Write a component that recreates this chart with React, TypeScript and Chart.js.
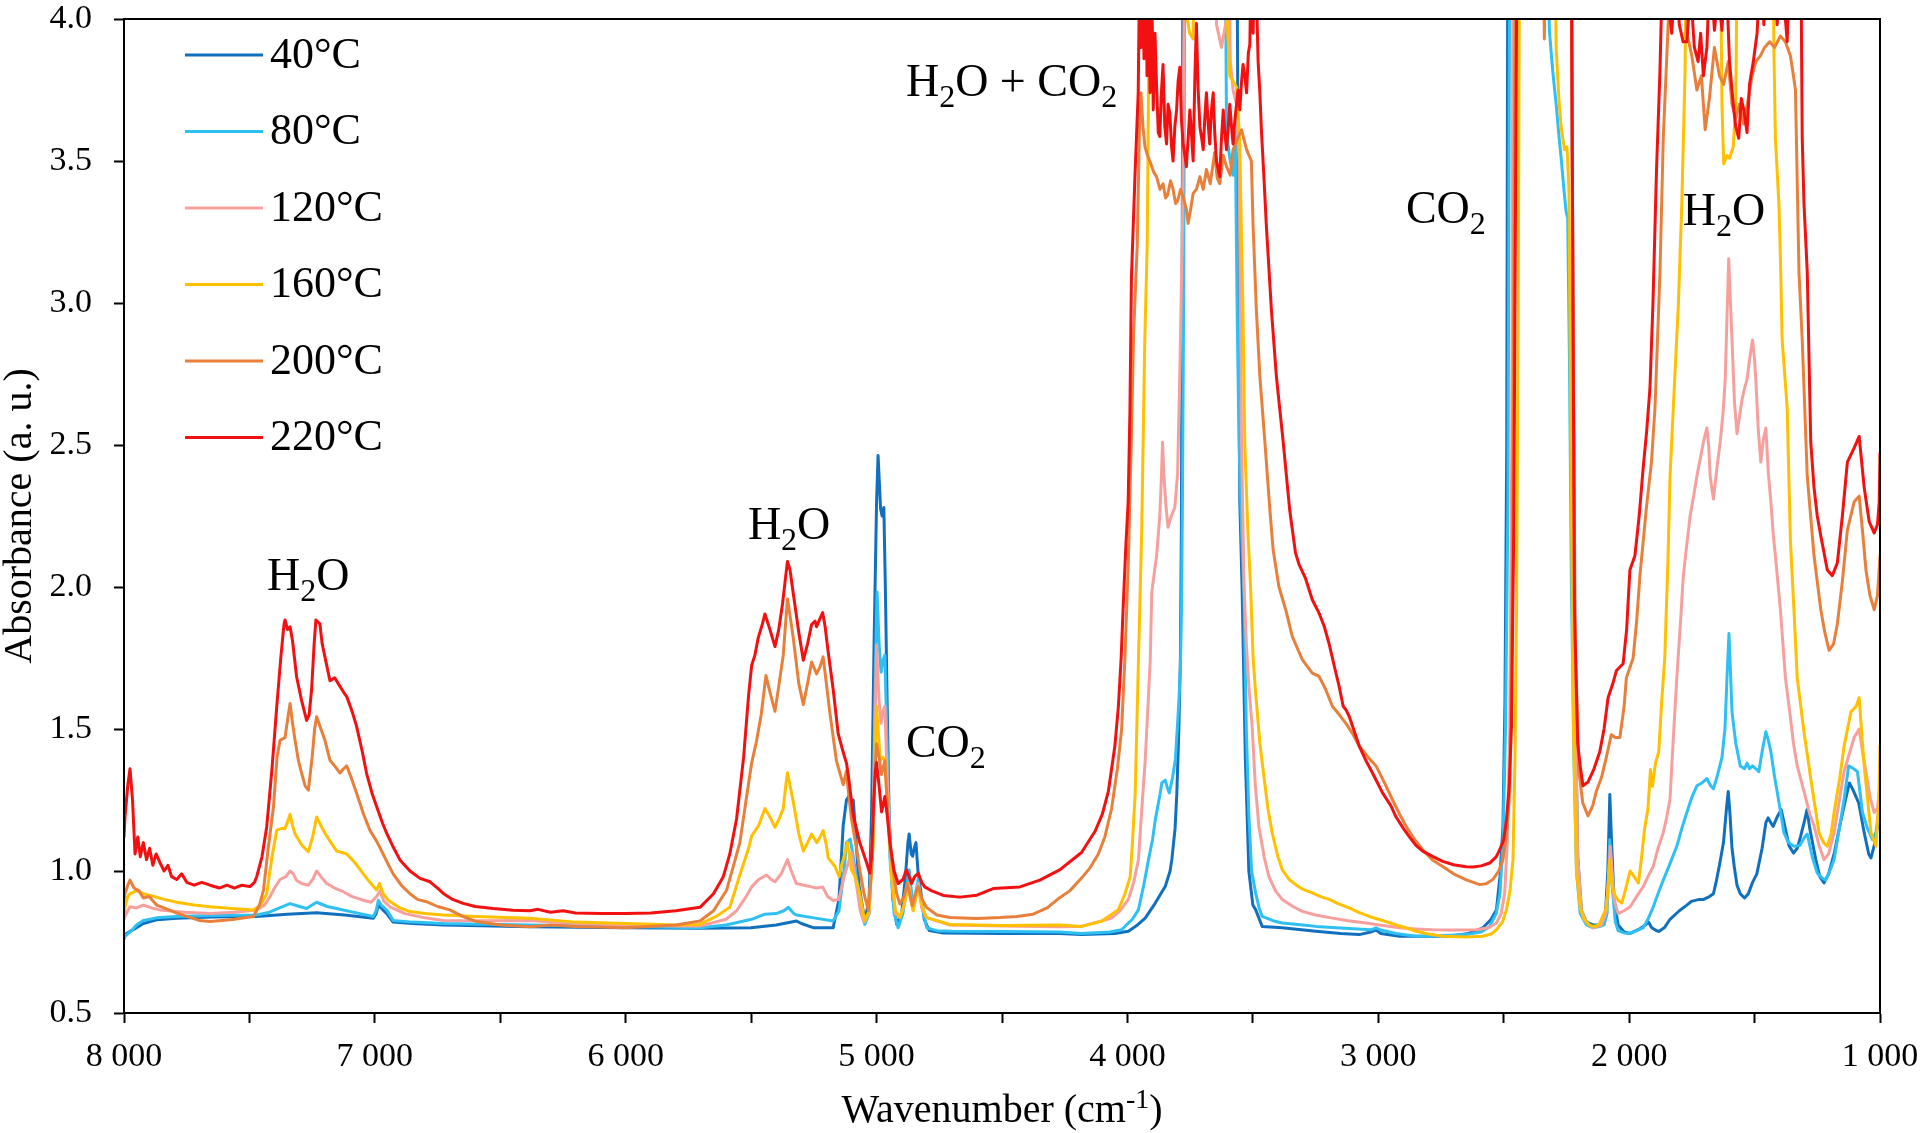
import React, { useEffect, useRef } from "react";
import { Chart, registerables } from "chart.js";

Chart.register(...registerables);

const FONT = "'Liberation Serif', 'Times New Roman', serif";

const SERIES_NAMES = ["40°C", "80°C", "120°C", "160°C", "200°C", "220°C"];
const SERIES_COLORS = ["#1170BE", "#2EC0F2", "#F6A09E", "#FFC000", "#E8803C", "#F21010"];

// [wavenumber (cm-1), absorbance (a. u.)]
const T40: [number, number][] = [
  [8000,0.77],[7996,0.776],[7970,0.79],[7950,0.80],[7923,0.815],[7870,0.828],[7790,0.834],[7650,0.838],[7471,0.84],[7350,0.848],[7232,0.853],[7120,0.845],[7006,0.834],[6995,0.85],[6986,0.88],[6970,0.865],[6953,0.85],[6927,0.82],[6850,0.815],[6727,0.81],[6382,0.804],[6000,0.80],[5704,0.798],[5500,0.80],[5400,0.81],[5319,0.824],[5300,0.815],[5250,0.80],[5173,0.80],[5150,0.90],[5133,1.16],[5120,1.25],[5107,1.268],[5100,1.22],[5093,1.25],[5085,1.15],[5070,0.95],[5047,0.824],[5030,0.90],[5020,1.2],[5010,1.8],[5000,2.3],[4994,2.463],[4988,2.35],[4984,2.276],[4978,2.25],[4971,2.28],[4965,2.0],[4958,1.6],[4950,1.2],[4935,0.9],[4920,0.812],[4900,0.85],[4885,0.98],[4875,1.10],[4870,1.13],[4862,1.06],[4856,1.052],[4850,1.08],[4843,1.10],[4835,1.0],[4826,0.944],[4810,0.83],[4790,0.79],[4734,0.782],[4500,0.78],[4270,0.78],[4183,0.776],[4050,0.78],[3996,0.788],[3960,0.81],[3929,0.834],[3889,0.887],[3849,0.946],[3830,1.0],[3823,1.04],[3810,1.15],[3803,1.275],[3795,1.5],[3789,1.744],[3785,2.2],[3782,3.0],[3778,4.6],[3565,4.6],[3559,3.5],[3552,2.3],[3543,2.0],[3530,1.4],[3516,1.0],[3500,0.88],[3489,0.864],[3463,0.805],[3383,0.80],[3249,0.788],[3150,0.78],[3076,0.776],[3030,0.785],[3009,0.793],[2990,0.78],[2916,0.77],[2800,0.77],[2716,0.77],[2640,0.78],[2583,0.80],[2550,0.83],[2529,0.864],[2515,0.98],[2503,1.157],[2495,1.6],[2488,2.5],[2483,4.6],[2232,4.6],[2224,3.0],[2215,1.6],[2205,1.05],[2190,0.86],[2170,0.82],[2144,0.81],[2115,0.81],[2095,0.84],[2085,1.0],[2077,1.269],[2070,1.1],[2060,0.90],[2044,0.81],[2020,0.785],[1996,0.78],[1960,0.795],[1935,0.81],[1923,0.82],[1910,0.80],[1891,0.79],[1882,0.787],[1860,0.80],[1837,0.83],[1800,0.86],[1770,0.88],[1752,0.893],[1720,0.90],[1703,0.90],[1680,0.91],[1664,0.92],[1654,0.958],[1640,1.02],[1624,1.10],[1612,1.22],[1605,1.28],[1598,1.20],[1590,1.08],[1581,1.016],[1570,0.95],[1557,0.92],[1540,0.905],[1525,0.92],[1508,0.96],[1491,0.99],[1470,1.08],[1455,1.17],[1446,1.187],[1435,1.17],[1426,1.157],[1410,1.19],[1394,1.216],[1380,1.16],[1363,1.09],[1345,1.063],[1330,1.08],[1317,1.12],[1300,1.18],[1291,1.216],[1280,1.15],[1256,1.04],[1240,0.98],[1223,0.958],[1205,0.99],[1183,1.06],[1160,1.16],[1143,1.23],[1122,1.31],[1110,1.29],[1095,1.26],[1085,1.24],[1063,1.135],[1045,1.06],[1036,1.046],[1020,1.10],[1010,1.16],[1000,1.24],
];

const T80: [number, number][] = [
  [8000,0.76],[7996,0.77],[7970,0.79],[7950,0.81],[7923,0.826],[7870,0.835],[7790,0.84],[7650,0.843],[7471,0.845],[7420,0.855],[7380,0.87],[7338,0.885],[7300,0.875],[7272,0.868],[7250,0.88],[7232,0.89],[7190,0.875],[7126,0.863],[7060,0.85],[7006,0.84],[6995,0.86],[6986,0.897],[6975,0.88],[6953,0.863],[6927,0.826],[6850,0.82],[6727,0.815],[6382,0.81],[6000,0.805],[5704,0.80],[5600,0.81],[5498,0.83],[5445,0.848],[5400,0.85],[5370,0.86],[5352,0.872],[5330,0.85],[5319,0.845],[5250,0.835],[5173,0.824],[5150,0.86],[5130,1.0],[5120,1.10],[5105,1.112],[5093,1.05],[5075,0.95],[5060,0.85],[5047,0.812],[5030,0.85],[5013,1.2],[5005,1.7],[4998,1.982],[4990,1.80],[4982,1.70],[4975,1.74],[4967,1.76],[4958,1.45],[4947,1.05],[4930,0.85],[4914,0.80],[4895,0.85],[4880,0.95],[4870,1.004],[4860,0.92],[4854,0.87],[4845,0.92],[4834,0.97],[4820,0.88],[4800,0.80],[4760,0.79],[4700,0.788],[4500,0.787],[4270,0.785],[4183,0.78],[4070,0.785],[4023,0.793],[4004,0.81],[3980,0.83],[3956,0.864],[3935,0.95],[3916,1.04],[3900,1.11],[3889,1.18],[3870,1.27],[3863,1.31],[3849,1.32],[3840,1.29],[3833,1.275],[3820,1.33],[3809,1.392],[3798,1.55],[3789,1.7],[3784,1.95],[3780,2.4],[3776,3.0],[3770,4.6],[3612,4.6],[3605,3.62],[3598,3.55],[3590,3.50],[3578,3.45],[3570,3.6],[3563,3.0],[3555,2.5],[3545,2.2],[3536,2.0],[3526,1.5],[3516,1.2],[3505,1.0],[3489,0.923],[3475,0.87],[3463,0.84],[3420,0.825],[3383,0.817],[3300,0.81],[3249,0.805],[3100,0.797],[3030,0.793],[3009,0.80],[2990,0.792],[2930,0.78],[2849,0.77],[2750,0.772],[2649,0.776],[2590,0.785],[2556,0.805],[2530,0.85],[2515,0.92],[2503,1.1],[2493,1.5],[2483,2.3],[2475,4.6],[2330,4.6],[2318,3.96],[2305,3.82],[2291,3.70],[2281,3.60],[2271,3.51],[2260,3.40],[2251,3.32],[2245,3.30],[2238,2.8],[2230,2.0],[2220,1.4],[2210,1.0],[2195,0.85],[2170,0.81],[2144,0.80],[2115,0.805],[2100,0.81],[2088,0.85],[2077,1.11],[2068,0.95],[2055,0.82],[2044,0.79],[2020,0.782],[1997,0.78],[1970,0.79],[1944,0.80],[1925,0.83],[1904,0.873],[1885,0.92],[1864,0.968],[1840,1.02],[1810,1.087],[1790,1.15],[1770,1.206],[1750,1.26],[1730,1.30],[1710,1.31],[1690,1.325],[1675,1.30],[1664,1.29],[1650,1.33],[1630,1.40],[1618,1.50],[1610,1.68],[1602,1.836],[1596,1.70],[1590,1.56],[1575,1.45],[1557,1.37],[1540,1.36],[1530,1.38],[1520,1.36],[1508,1.37],[1495,1.36],[1483,1.35],[1470,1.42],[1455,1.49],[1445,1.46],[1435,1.42],[1420,1.33],[1410,1.28],[1395,1.20],[1383,1.135],[1365,1.10],[1343,1.087],[1320,1.09],[1300,1.12],[1290,1.13],[1270,1.05],[1250,0.992],[1230,0.975],[1216,0.968],[1200,1.0],[1183,1.04],[1160,1.16],[1143,1.254],[1125,1.37],[1105,1.36],[1090,1.35],[1080,1.28],[1070,1.206],[1050,1.15],[1030,1.11],[1015,1.14],[1000,1.254],
];

const T120: [number, number][] = [
  [8000,0.83],[7996,0.84],[7985,0.86],[7976,0.874],[7950,0.87],[7923,0.88],[7890,0.87],[7857,0.863],[7760,0.855],[7657,0.85],[7560,0.855],[7471,0.863],[7440,0.88],[7418,0.91],[7400,0.94],[7378,0.97],[7355,0.98],[7338,1.00],[7325,0.99],[7312,0.967],[7290,0.955],[7265,0.95],[7248,0.97],[7232,1.00],[7215,0.98],[7192,0.956],[7160,0.94],[7126,0.927],[7090,0.91],[7046,0.897],[7015,0.89],[6993,0.91],[6980,0.93],[6965,0.895],[6940,0.874],[6880,0.85],[6800,0.835],[6727,0.826],[6550,0.825],[6382,0.826],[6200,0.815],[6000,0.81],[5800,0.806],[5704,0.806],[5600,0.83],[5558,0.86],[5520,0.91],[5498,0.944],[5470,0.97],[5439,0.986],[5420,0.97],[5405,0.962],[5380,0.99],[5365,1.02],[5355,1.04],[5340,1.0],[5320,0.956],[5290,0.95],[5259,0.944],[5240,0.94],[5215,0.944],[5195,0.91],[5173,0.896],[5150,0.90],[5130,0.98],[5113,1.028],[5100,1.064],[5085,0.98],[5065,0.86],[5050,0.82],[5030,0.85],[5013,1.2],[5005,1.6],[5000,1.796],[4990,1.6],[4982,1.52],[4975,1.56],[4967,1.58],[4955,1.25],[4940,0.98],[4925,0.85],[4907,0.836],[4890,0.88],[4872,0.956],[4862,0.90],[4854,0.86],[4845,0.90],[4834,0.956],[4820,0.87],[4801,0.836],[4708,0.81],[4500,0.806],[4270,0.804],[4183,0.805],[4063,0.834],[4030,0.86],[3996,0.90],[3975,0.96],[3956,1.04],[3944,1.2],[3929,1.392],[3917,1.6],[3909,1.744],[3903,1.98],[3890,2.07],[3884,2.107],[3871,2.25],[3864,2.40],[3860,2.51],[3855,2.4],[3846,2.28],[3838,2.21],[3825,2.25],[3811,2.28],[3800,2.4],[3790,2.8],[3780,3.3],[3770,4.6],[3650,4.6],[3645,3.98],[3625,3.9],[3605,4.0],[3598,4.6],[3590,3.85],[3579,3.75],[3565,3.70],[3555,3.5],[3545,2.5],[3535,2.0],[3526,1.8],[3516,1.65],[3503,1.51],[3490,1.3],[3476,1.157],[3455,1.05],[3436,0.98],[3410,0.93],[3383,0.90],[3340,0.875],[3303,0.858],[3250,0.845],[3183,0.834],[3120,0.825],[3049,0.817],[2980,0.808],[2916,0.80],[2850,0.796],[2783,0.793],[2700,0.792],[2609,0.793],[2560,0.80],[2529,0.817],[2510,0.85],[2496,0.923],[2486,1.1],[2476,1.5],[2468,2.5],[2462,4.6],[2232,4.6],[2224,2.8],[2215,1.6],[2205,1.05],[2190,0.86],[2170,0.82],[2144,0.80],[2110,0.81],[2090,0.86],[2075,1.087],[2060,0.90],[2044,0.85],[2020,0.86],[1997,0.873],[1970,0.91],[1944,0.945],[1925,0.98],[1904,1.016],[1885,1.08],[1864,1.135],[1850,1.19],[1837,1.254],[1825,1.45],[1810,1.68],[1795,1.88],[1784,2.04],[1770,2.15],[1757,2.25],[1743,2.32],[1730,2.39],[1717,2.45],[1704,2.51],[1690,2.56],[1683,2.50],[1677,2.39],[1664,2.31],[1650,2.42],[1637,2.51],[1625,2.62],[1617,2.73],[1610,2.95],[1603,3.156],[1596,3.0],[1590,2.87],[1580,2.65],[1570,2.54],[1560,2.60],[1550,2.66],[1540,2.70],[1530,2.73],[1520,2.80],[1508,2.87],[1500,2.80],[1495,2.73],[1485,2.55],[1475,2.44],[1465,2.52],[1455,2.56],[1445,2.40],[1435,2.30],[1425,2.18],[1417,2.11],[1397,1.92],[1377,1.68],[1357,1.54],[1345,1.45],[1330,1.37],[1303,1.28],[1280,1.20],[1263,1.16],[1243,1.09],[1223,1.04],[1205,1.06],[1183,1.135],[1160,1.26],[1143,1.35],[1120,1.42],[1103,1.47],[1083,1.50],[1070,1.42],[1056,1.35],[1040,1.26],[1023,1.206],[1010,1.22],[1000,1.30],
];

const T160: [number, number][] = [
  [8000,0.84],[7996,0.874],[7985,0.91],[7976,0.92],[7950,0.93],[7923,0.92],[7880,0.91],[7840,0.90],[7790,0.89],[7720,0.88],[7657,0.874],[7570,0.868],[7484,0.863],[7455,0.88],[7431,0.92],[7410,1.05],[7391,1.144],[7370,1.15],[7358,1.15],[7345,1.18],[7338,1.20],[7328,1.16],[7318,1.13],[7290,1.09],[7265,1.068],[7248,1.12],[7232,1.19],[7215,1.16],[7199,1.133],[7175,1.10],[7152,1.07],[7130,1.065],[7112,1.06],[7080,1.03],[7046,0.99],[7020,0.96],[6993,0.933],[6982,0.956],[6967,0.92],[6947,0.897],[6900,0.87],[6860,0.857],[6800,0.85],[6727,0.845],[6600,0.84],[6382,0.834],[6200,0.82],[6000,0.815],[5800,0.81],[5704,0.812],[5640,0.84],[5585,0.872],[5540,1.00],[5510,1.08],[5498,1.124],[5470,1.16],[5445,1.22],[5425,1.19],[5405,1.154],[5390,1.18],[5372,1.22],[5362,1.30],[5355,1.346],[5345,1.30],[5332,1.244],[5310,1.13],[5292,1.07],[5275,1.10],[5259,1.13],[5239,1.10],[5225,1.12],[5213,1.142],[5200,1.09],[5193,1.046],[5166,1.016],[5149,0.98],[5140,1.02],[5133,1.04],[5116,1.10],[5100,1.004],[5085,0.98],[5067,0.92],[5047,0.824],[5030,0.86],[5013,1.10],[5005,1.45],[5000,1.58],[4990,1.45],[4985,1.388],[4975,1.40],[4967,1.394],[4955,1.20],[4940,0.98],[4925,0.86],[4907,0.836],[4890,0.88],[4874,0.956],[4865,0.90],[4854,0.86],[4845,0.90],[4834,0.944],[4820,0.88],[4801,0.836],[4708,0.812],[4500,0.808],[4270,0.81],[4183,0.805],[4103,0.823],[4036,0.864],[4010,0.92],[3989,0.98],[3980,1.10],[3969,1.275],[3956,1.744],[3943,2.2],[3931,2.86],[3921,3.21],[3916,3.74],[3910,4.6],[3775,4.6],[3765,4.02],[3752,3.95],[3738,3.93],[3730,4.6],[3612,4.6],[3600,3.95],[3592,3.80],[3578,3.78],[3565,3.76],[3552,3.56],[3545,3.21],[3540,3.0],[3532,2.5],[3520,2.2],[3509,2.0],[3499,1.75],[3489,1.627],[3472,1.45],[3456,1.333],[3440,1.22],[3423,1.134],[3400,1.05],[3383,1.005],[3355,0.97],[3329,0.952],[3300,0.935],[3263,0.923],[3230,0.91],[3196,0.90],[3160,0.885],[3116,0.87],[3080,0.855],[3036,0.84],[2980,0.825],[2929,0.81],[2890,0.80],[2849,0.788],[2800,0.778],[2743,0.77],[2650,0.768],[2583,0.77],[2550,0.778],[2529,0.793],[2505,0.82],[2489,0.864],[2475,0.93],[2463,1.04],[2455,1.4],[2449,1.9],[2442,3.0],[2436,4.6],[2300,4.6],[2291,3.90],[2280,3.72],[2271,3.62],[2258,3.54],[2248,3.55],[2240,3.4],[2232,2.5],[2222,1.5],[2210,1.0],[2195,0.87],[2180,0.83],[2160,0.81],[2142,0.805],[2120,0.81],[2094,0.864],[2085,0.93],[2077,1.04],[2070,0.96],[2060,0.92],[2044,0.897],[2029,0.887],[2010,0.95],[1996,1.0],[1980,0.98],[1963,0.958],[1950,1.05],[1939,1.145],[1925,1.22],[1915,1.357],[1907,1.298],[1895,1.38],[1882,1.42],[1870,1.6],[1858,1.75],[1845,2.1],[1837,2.39],[1824,2.63],[1804,2.99],[1790,3.35],[1777,3.82],[1770,4.6],[1640,4.6],[1630,3.7],[1623,3.49],[1610,3.52],[1600,3.51],[1585,3.55],[1575,3.7],[1565,4.6],[1430,4.6],[1423,3.9],[1417,3.58],[1403,3.35],[1397,3.16],[1390,2.87],[1370,2.63],[1357,2.16],[1343,1.92],[1330,1.68],[1303,1.49],[1276,1.325],[1243,1.135],[1225,1.10],[1210,1.087],[1195,1.13],[1183,1.206],[1160,1.33],[1143,1.44],[1116,1.56],[1095,1.58],[1083,1.61],[1070,1.45],[1063,1.37],[1036,1.135],[1016,1.087],[1005,1.25],[1000,1.44],
];

const T200: [number, number][] = [
  [8000,0.90],[7996,0.92],[7985,0.95],[7976,0.968],[7960,0.94],[7940,0.93],[7923,0.905],[7900,0.91],[7870,0.88],[7840,0.87],[7790,0.852],[7750,0.84],[7700,0.826],[7657,0.822],[7610,0.826],[7560,0.83],[7520,0.835],[7484,0.84],[7460,0.88],[7444,0.933],[7425,1.08],[7404,1.227],[7390,1.40],[7378,1.46],[7358,1.47],[7345,1.55],[7338,1.59],[7328,1.52],[7318,1.46],[7305,1.39],[7292,1.345],[7278,1.30],[7265,1.285],[7250,1.40],[7240,1.50],[7232,1.543],[7215,1.50],[7199,1.46],[7179,1.39],[7160,1.37],[7139,1.345],[7125,1.36],[7112,1.37],[7095,1.33],[7073,1.275],[7045,1.20],[7020,1.144],[6990,1.10],[6967,1.06],[6945,1.02],[6927,0.99],[6895,0.95],[6860,0.92],[6830,0.90],[6794,0.892],[6750,0.875],[6701,0.863],[6650,0.84],[6594,0.822],[6500,0.81],[6382,0.804],[6300,0.81],[6200,0.805],[6000,0.80],[5800,0.81],[5704,0.824],[5650,0.86],[5598,0.932],[5570,1.02],[5545,1.10],[5520,1.25],[5498,1.38],[5478,1.46],[5460,1.55],[5441,1.688],[5425,1.63],[5405,1.562],[5390,1.65],[5372,1.76],[5362,1.88],[5355,1.958],[5345,1.90],[5332,1.82],[5310,1.66],[5292,1.586],[5275,1.66],[5259,1.736],[5239,1.694],[5225,1.72],[5213,1.754],[5200,1.66],[5186,1.556],[5160,1.388],[5133,1.304],[5120,1.352],[5110,1.26],[5100,1.184],[5080,1.08],[5067,1.004],[5050,0.92],[5033,0.86],[5020,1.0],[5013,1.16],[5005,1.38],[5000,1.448],[4990,1.40],[4980,1.34],[4967,1.388],[4955,1.20],[4940,1.04],[4920,0.92],[4907,0.884],[4890,0.91],[4878,0.956],[4865,0.91],[4857,0.878],[4845,0.92],[4834,0.944],[4818,0.90],[4801,0.872],[4760,0.845],[4708,0.836],[4600,0.833],[4509,0.836],[4440,0.84],[4376,0.848],[4320,0.87],[4270,0.906],[4230,0.93],[4183,0.975],[4150,1.01],[4116,1.06],[4090,1.12],[4063,1.22],[4040,1.36],[4023,1.5],[4010,1.75],[3996,2.1],[3985,2.5],[3975,2.9],[3961,3.2],[3952,3.62],[3946,3.74],[3938,3.62],[3930,3.55],[3920,3.52],[3911,3.50],[3895,3.46],[3884,3.445],[3870,3.40],[3858,3.42],[3848,3.37],[3840,3.38],[3828,3.43],[3818,3.40],[3808,3.35],[3800,3.36],[3788,3.40],[3778,3.374],[3765,3.33],[3758,3.28],[3748,3.33],[3738,3.386],[3725,3.40],[3711,3.445],[3698,3.40],[3685,3.47],[3670,3.42],[3652,3.53],[3642,3.44],[3632,3.42],[3618,3.52],[3605,3.48],[3590,3.45],[3579,3.54],[3560,3.58],[3545,3.61],[3525,3.54],[3506,3.50],[3499,3.27],[3486,2.975],[3472,2.74],[3452,2.51],[3432,2.27],[3419,2.13],[3396,2.0],[3369,1.92],[3343,1.826],[3303,1.744],[3263,1.697],[3236,1.685],[3210,1.64],[3183,1.58],[3155,1.55],[3129,1.52],[3100,1.48],[3076,1.44],[3040,1.40],[3009,1.37],[2975,1.31],[2943,1.25],[2915,1.20],[2889,1.157],[2855,1.11],[2823,1.075],[2785,1.04],[2743,1.016],[2700,0.99],[2649,0.969],[2596,0.952],[2570,0.955],[2543,0.97],[2520,1.0],[2503,1.04],[2490,1.12],[2476,1.275],[2466,2.0],[2458,3.5],[2450,4.6],[2345,4.6],[2338,3.93],[2328,4.6],[2232,4.6],[2224,3.0],[2215,1.8],[2200,1.35],[2185,1.24],[2164,1.194],[2145,1.23],[2131,1.28],[2110,1.33],[2091,1.40],[2071,1.48],[2055,1.47],[2037,1.47],[2020,1.58],[2011,1.68],[1984,1.75],[1970,1.88],[1957,2.04],[1931,2.28],[1911,2.44],[1897,2.63],[1877,3.11],[1864,3.58],[1844,3.99],[1830,4.6],[1790,4.6],[1770,3.95],[1750,3.87],[1730,3.75],[1712,3.80],[1697,3.61],[1680,3.72],[1660,3.90],[1640,3.80],[1623,3.77],[1605,3.85],[1590,3.70],[1575,3.65],[1560,3.70],[1543,3.63],[1525,3.72],[1510,3.80],[1495,3.85],[1477,3.87],[1460,3.90],[1440,3.92],[1420,3.90],[1397,3.94],[1377,3.92],[1357,3.87],[1345,3.80],[1337,3.75],[1323,3.11],[1310,2.87],[1290,2.39],[1263,2.11],[1236,1.92],[1220,1.84],[1203,1.777],[1185,1.80],[1170,1.87],[1150,2.02],[1130,2.20],[1103,2.30],[1083,2.32],[1070,2.20],[1056,2.06],[1040,1.97],[1023,1.92],[1010,1.97],[1000,2.11],
];

const T220: [number, number][] = [
  [8000,1.12],[7996,1.19],[7985,1.30],[7976,1.36],[7966,1.25],[7956,1.06],[7945,1.12],[7935,1.05],[7923,1.10],[7910,1.04],[7898,1.08],[7885,1.02],[7872,1.06],[7857,1.03],[7840,1.00],[7825,1.02],[7810,0.98],[7790,0.97],[7770,0.99],[7750,0.96],[7720,0.95],[7690,0.96],[7657,0.95],[7620,0.94],[7590,0.95],[7560,0.94],[7530,0.95],[7498,0.945],[7480,0.96],[7471,0.98],[7450,1.05],[7431,1.156],[7410,1.36],[7391,1.58],[7375,1.75],[7362,1.87],[7358,1.884],[7348,1.85],[7338,1.86],[7328,1.81],[7312,1.684],[7292,1.60],[7272,1.53],[7262,1.55],[7252,1.64],[7242,1.80],[7235,1.884],[7219,1.87],[7210,1.80],[7199,1.754],[7179,1.67],[7160,1.68],[7139,1.65],[7125,1.63],[7112,1.614],[7090,1.56],[7073,1.51],[7050,1.42],[7033,1.344],[7010,1.27],[6993,1.227],[6970,1.17],[6953,1.133],[6930,1.09],[6900,1.039],[6860,1.0],[6820,0.974],[6780,0.962],[6750,0.94],[6727,0.921],[6690,0.90],[6648,0.886],[6600,0.875],[6528,0.868],[6450,0.862],[6382,0.86],[6350,0.865],[6300,0.855],[6250,0.86],[6200,0.852],[6100,0.85],[6000,0.85],[5900,0.852],[5800,0.86],[5704,0.872],[5650,0.92],[5611,0.98],[5585,1.06],[5558,1.184],[5530,1.40],[5510,1.62],[5498,1.724],[5485,1.76],[5472,1.82],[5455,1.87],[5445,1.905],[5425,1.85],[5405,1.79],[5390,1.85],[5375,1.94],[5362,2.04],[5355,2.09],[5345,2.06],[5332,1.977],[5310,1.84],[5292,1.742],[5275,1.80],[5259,1.868],[5245,1.88],[5239,1.86],[5225,1.89],[5215,1.91],[5205,1.86],[5193,1.772],[5173,1.64],[5153,1.484],[5133,1.418],[5120,1.38],[5113,1.34],[5093,1.196],[5067,1.10],[5040,1.03],[5027,0.992],[5020,1.05],[5013,1.22],[5005,1.35],[5000,1.382],[4990,1.30],[4980,1.208],[4972,1.24],[4967,1.262],[4958,1.20],[4947,1.10],[4930,1.00],[4914,0.956],[4895,0.97],[4881,1.004],[4870,0.98],[4861,0.956],[4848,0.98],[4834,0.992],[4820,0.96],[4808,0.944],[4780,0.93],[4734,0.914],[4668,0.908],[4600,0.915],[4535,0.938],[4429,0.944],[4349,0.968],[4270,1.004],[4183,1.065],[4129,1.14],[4100,1.2],[4076,1.28],[4050,1.44],[4036,1.58],[4025,1.75],[4016,1.95],[4006,2.15],[3997,2.3],[3990,2.62],[3984,3.09],[3970,3.445],[3957,3.74],[3950,4.3],[3945,3.9],[3940,4.3],[3934,3.86],[3928,4.4],[3922,3.80],[3917,4.3],[3910,3.74],[3904,4.2],[3897,3.68],[3890,3.95],[3884,3.77],[3877,3.60],[3871,3.586],[3864,3.75],[3858,3.84],[3851,3.62],[3844,3.56],[3838,3.70],[3831,3.668],[3824,3.55],[3818,3.50],[3811,3.62],[3804,3.68],[3798,3.78],[3791,3.83],[3785,3.65],[3778,3.56],[3771,3.52],[3765,3.48],[3758,3.58],[3751,3.68],[3745,3.60],[3738,3.50],[3731,3.80],[3725,3.985],[3718,3.75],[3711,3.62],[3704,3.58],[3698,3.54],[3691,3.66],[3685,3.74],[3678,3.63],[3672,3.56],[3665,3.68],[3658,3.74],[3652,3.60],[3645,3.50],[3638,3.47],[3632,3.445],[3625,3.58],[3618,3.68],[3612,3.60],[3605,3.54],[3598,3.62],[3592,3.70],[3585,3.62],[3579,3.56],[3572,3.64],[3565,3.70],[3559,3.75],[3552,3.68],[3545,3.78],[3539,3.84],[3532,3.80],[3525,3.74],[3518,3.88],[3512,3.91],[3505,4.3],[3499,3.95],[3492,4.3],[3486,4.1],[3479,3.85],[3472,3.74],[3466,3.61],[3456,3.445],[3446,3.27],[3426,2.975],[3406,2.74],[3379,2.51],[3353,2.27],[3330,2.12],[3316,2.08],[3290,2.03],[3263,1.955],[3236,1.908],[3215,1.86],[3196,1.80],[3175,1.72],[3156,1.65],[3140,1.58],[3129,1.568],[3116,1.545],[3095,1.49],[3076,1.44],[3050,1.39],[3023,1.345],[2983,1.275],[2950,1.23],[2929,1.19],[2900,1.15],[2876,1.12],[2850,1.09],[2823,1.07],[2780,1.05],[2743,1.034],[2700,1.022],[2650,1.015],[2623,1.014],[2590,1.018],[2556,1.028],[2530,1.05],[2516,1.075],[2500,1.11],[2489,1.18],[2478,1.3],[2469,1.51],[2460,2.2],[2452,3.5],[2445,4.6],[2232,4.6],[2224,3.0],[2218,1.92],[2205,1.45],[2195,1.37],[2184,1.30],[2170,1.31],[2164,1.313],[2140,1.36],[2117,1.42],[2100,1.50],[2084,1.61],[2065,1.66],[2051,1.705],[2035,1.72],[2024,1.73],[2010,1.85],[1997,2.06],[1977,2.11],[1960,2.25],[1944,2.42],[1930,2.55],[1917,2.70],[1905,3.0],[1891,3.465],[1877,3.82],[1864,4.3],[1850,4.1],[1830,3.95],[1815,4.2],[1800,3.98],[1785,3.92],[1770,3.92],[1755,4.1],[1740,3.90],[1725,3.85],[1715,3.95],[1704,3.80],[1690,3.90],[1677,4.2],[1660,3.96],[1645,4.1],[1630,3.96],[1615,4.2],[1600,3.85],[1585,3.7],[1575,3.62],[1563,3.58],[1553,3.72],[1543,3.68],[1530,3.6],[1520,3.77],[1505,3.85],[1490,3.95],[1475,4.2],[1463,3.98],[1450,4.3],[1430,4.3],[1410,3.98],[1395,4.2],[1370,3.92],[1355,4.3],[1316,4.3],[1310,3.58],[1303,3.35],[1290,3.11],[1276,2.51],[1263,2.35],[1250,2.25],[1236,2.18],[1210,2.06],[1190,2.04],[1170,2.085],[1150,2.25],[1130,2.44],[1103,2.49],[1083,2.53],[1063,2.35],[1043,2.23],[1023,2.19],[1010,2.22],[1003,2.30],[1000,2.47],
];

const SERIES_DATA = [T40, T80, T120, T160, T200, T220];

// Peak annotations: text, anchored (left, baseline) at [wavenumber, absorbance]
const ANNOT_TEXT = ["H2O", "H2O", "CO2", "H2O + CO2", "CO2", "H2O"];
const ANNOT_POS: [number, number][] = [
  [7430, 1.99], [5513, 2.17], [4883, 1.40], [4883, 3.73], [2890, 3.28], [1786, 3.275],
];

const X_TITLE = ["Wavenumber (cm", "-1", ")"];
const Y_TITLE = "Absorbance (a. u.)";

const overlayPlugin = {
  id: "overlay",
  afterDraw(chart: any) {
    const { ctx, chartArea, scales } = chart;
    const { left, right, top, bottom } = chartArea;
    ctx.save();
    // frame
    ctx.strokeStyle = "#000";
    ctx.lineWidth = 2;
    ctx.strokeRect(left, top, right - left, bottom - top);

    // legend
    ctx.textBaseline = "middle";
    ctx.textAlign = "left";
    ctx.font = `44px ${FONT}`;
    SERIES_NAMES.forEach((name, i) => {
      const y = top + 36 + i * 76.5;
      ctx.strokeStyle = SERIES_COLORS[i];
      ctx.lineWidth = 3;
      ctx.beginPath();
      ctx.moveTo(left + 61, y);
      ctx.lineTo(left + 139, y);
      ctx.stroke();
      ctx.fillStyle = "#000";
      ctx.fillText(name, left + 146, y + 1);
    });

    // annotations with subscripts
    ctx.textBaseline = "alphabetic";
    ctx.fillStyle = "#000";
    ANNOT_TEXT.forEach((txt, i) => {
      let x = scales.x.getPixelForValue(ANNOT_POS[i][0]);
      const y = scales.y.getPixelForValue(ANNOT_POS[i][1]);
      for (const ch of txt) {
        const sub = /[0-9]/.test(ch);
        ctx.font = sub ? `32px ${FONT}` : `46px ${FONT}`;
        ctx.fillText(ch, x, sub ? y + 11 : y);
        x += ctx.measureText(ch).width;
      }
    });

    // x-axis title with superscript
    const fMain = `40px ${FONT}`;
    const fSup = `28px ${FONT}`;
    ctx.font = fMain;
    const w0 = ctx.measureText(X_TITLE[0]).width;
    const w2 = ctx.measureText(X_TITLE[2]).width;
    ctx.font = fSup;
    const w1 = ctx.measureText(X_TITLE[1]).width;
    let tx = (left + right) / 2 - (w0 + w1 + w2) / 2;
    const ty = bottom + 109;
    ctx.font = fMain;
    ctx.fillText(X_TITLE[0], tx, ty);
    tx += w0;
    ctx.font = fSup;
    ctx.fillText(X_TITLE[1], tx, ty - 14);
    tx += w1;
    ctx.font = fMain;
    ctx.fillText(X_TITLE[2], tx, ty);
    ctx.restore();
  },
};

export default function App() {
  const ref = useRef<HTMLCanvasElement | null>(null);

  useEffect(() => {
    if (!ref.current) return;
    Chart.defaults.font.family = FONT;
    Chart.defaults.color = "#000";
    const datasets = SERIES_DATA.map((d, i) => ({
      label: SERIES_NAMES[i],
      data: d.map(([x, y]) => ({ x, y })),
      borderColor: SERIES_COLORS[i],
      backgroundColor: SERIES_COLORS[i],
      borderWidth: 3,
      pointRadius: 0,
      pointHoverRadius: 0,
      tension: 0,
      fill: false,
      borderJoinStyle: "round" as const,
      borderCapStyle: "round" as const,
      order: SERIES_DATA.length - i,
    }));

    const chart = new Chart(ref.current, {
      type: "line",
      data: { datasets },
      plugins: [overlayPlugin],
      options: {
        animation: false,
        responsive: false,
        devicePixelRatio: 1,
        parsing: true,
        layout: { padding: { top: 19, right: 40, left: 0, bottom: 0 } },
        plugins: {
          legend: { display: false },
          tooltip: { enabled: false },
        },
        scales: {
          x: {
            type: "linear",
            reverse: true,
            min: 1000,
            max: 8000,
            afterFit: (s: any) => {
              s.height = 120;
              s.paddingLeft = 0;
              s.paddingRight = 0;
            },
            ticks: {
              stepSize: 500,
              autoSkip: false,
              maxRotation: 0,
              padding: 14,
              color: "#000",
              font: { size: 34, family: FONT },
              callback: (v: any) => {
                const n = Number(v);
                return n % 1000 === 0 ? `${n / 1000} 000` : "";
              },
            },
            grid: {
              drawOnChartArea: false,
              drawTicks: true,
              tickLength: 10,
              tickWidth: 2,
              tickColor: "#000",
            },
            border: { display: true, color: "#000", width: 2 },
          },
          y: {
            type: "linear",
            min: 0.5,
            max: 4.0,
            afterFit: (s: any) => {
              s.width = 124;
              s.paddingTop = 0;
              s.paddingBottom = 0;
            },
            ticks: {
              stepSize: 0.5,
              padding: 22,
              color: "#000",
              font: { size: 34, family: FONT },
              callback: (v: any) => Number(v).toFixed(1),
            },
            grid: {
              drawOnChartArea: false,
              drawTicks: true,
              tickLength: 10,
              tickWidth: 2,
              tickColor: "#000",
            },
            border: { display: true, color: "#000", width: 2 },
            title: {
              display: true,
              text: Y_TITLE,
              color: "#000",
              font: { size: 40, family: FONT, lineHeight: 1 },
              padding: { top: 0, bottom: 0 },
            },
          },
        },
      },
    });
    return () => chart.destroy();
  }, []);

  return (
    <div style={{ position: "fixed", left: 0, top: 0, width: 1920, height: 1133, background: "#fff" }}>
      <canvas ref={ref} width={1920} height={1133} style={{ display: "block", width: 1920, height: 1133 }} />
    </div>
  );
}
